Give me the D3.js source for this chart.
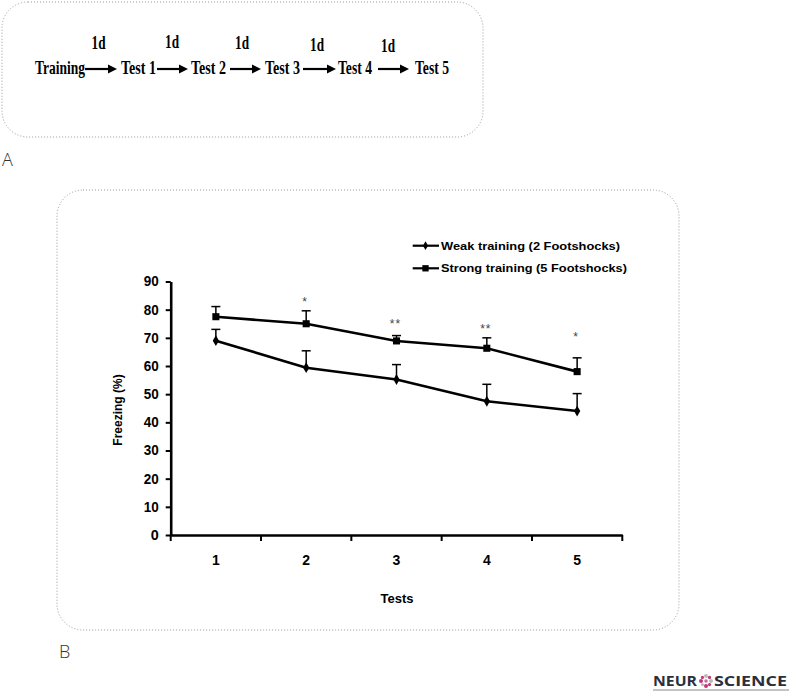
<!DOCTYPE html>
<html><head><meta charset="utf-8">
<script src="https://cdn.jsdelivr.net/npm/d3@7"></script>
<style>body{margin:0;background:#fff}svg{display:block}</style>
</head><body>
<script>
// ---- data ----
const stages = ["Training","Test 1","Test 2","Test 3","Test 4","Test 5"];
const intervalLabels = ["1d","1d","1d","1d","1d"];
const tests = ["1","2","3","4","5"];
const weakMean = [69.0, 59.4, 55.2, 47.5, 44.0];
const weakErr  = [4.0, 6.0, 5.3, 6.0, 6.2];
const strongMean = [77.5, 75.0, 68.9, 66.3, 58.0];
const strongErr  = [3.6, 4.6, 1.9, 3.7, 4.9];
const sigMarks = ["", "*", "**", "**", "*"];
const sigLevel = [null, 84, 76.5, 74.5, 71.6];
const yTicks = [0,10,20,30,40,50,60,70,80,90];
const seriesNames = ["Weak training (2 Footshocks)","Strong training (5 Footshocks)"];

const W=789,H=691;
const svg=d3.select("body").append("svg").attr("width",W).attr("height",H);

// ---- Panel A ----
svg.append("rect").attr("x",2).attr("y",2).attr("width",481).attr("height",135).attr("rx",26)
  .attr("fill","none").attr("stroke","#999").attr("stroke-width",1).attr("stroke-dasharray","1,2");
const stageX=[35,121,191,265,338,415];
const stageW=[50,35,35,35,34,34];
const serif="'Liberation Serif','Times New Roman',serif";
stages.forEach((s,i)=>{
  svg.append("text").attr("x",stageX[i]).attr("y",73.5).text(s)
    .attr("font-family",serif).attr("font-weight","bold").attr("font-size",18.5)
    .attr("textLength",stageW[i]).attr("lengthAdjust","spacingAndGlyphs");
});
const arrows=[[85,117],[157,188],[230,261],[303,336],[378,409]];
const dX=[98.5,172,242,317,388], dY=[49,48,49,50.5,51.5];
arrows.forEach((a,i)=>{
  svg.append("line").attr("x1",a[0]).attr("x2",a[1]-7).attr("y1",69).attr("y2",69)
    .attr("stroke","#000").attr("stroke-width",2.2);
  svg.append("path").attr("d",`M${a[1]},69 L${a[1]-9},64.5 L${a[1]-9},73.5 Z`).attr("fill","#000");
  svg.append("text").attr("x",dX[i]).attr("y",dY[i]).attr("text-anchor","middle").text(intervalLabels[i])
    .attr("font-family",serif).attr("font-weight","bold").attr("font-size",18)
    .attr("textLength",14).attr("lengthAdjust","spacingAndGlyphs");
});
svg.append("text").attr("x",2).attr("y",166).text("A").attr("font-family","'Open Sans',sans-serif")
  .attr("font-weight",300).attr("font-size",18).attr("fill","#333");

// ---- Panel B ----
svg.append("rect").attr("x",57).attr("y",190).attr("width",622).attr("height",440).attr("rx",26)
  .attr("fill","none").attr("stroke","#999").attr("stroke-width",1).attr("stroke-dasharray","1,2");
svg.append("text").attr("x",59).attr("y",658).text("B").attr("font-family","'Open Sans',sans-serif")
  .attr("font-weight",300).attr("font-size",18).attr("fill","#333");

const x=d3.scaleBand().domain(tests).range([170.7,622.3]);
const y=d3.scaleLinear().domain([0,90]).range([535,281.5]);
const sans="'Liberation Sans',Arial,sans-serif";

const gy=svg.append("g").attr("transform","translate(170.7,0)")
  .call(d3.axisLeft(y).tickValues(yTicks).tickSize(5).tickPadding(7).tickSizeOuter(0));
const gx=svg.append("g").attr("transform","translate(0,535)")
  .call(d3.axisBottom(x).tickSize(0).tickPadding(20));
// band boundary ticks
const bounds=x.domain().map(d=>x(d)).concat([x.range()[1]]);
gx.selectAll(".bt").data(bounds).enter().append("line").attr("class","bt")
  .attr("x1",d=>d).attr("x2",d=>d).attr("y1",0).attr("y2",6).attr("stroke","#000").attr("stroke-width",2);
[gx,gy].forEach(g=>{
  g.select(".domain").attr("stroke","#000").attr("stroke-width",2.6);
  g.selectAll(".tick line").attr("stroke","#000").attr("stroke-width",2);
  g.selectAll("text").attr("font-family",sans).attr("font-weight","bold").attr("font-size",14).attr("fill","#000");
});
gy.selectAll("text").attr("textLength",15).attr("lengthAdjust","spacingAndGlyphs");
gy.selectAll(".tick").filter(d=>d===0).select("text").attr("textLength",8);

svg.append("text").attr("transform","translate(122,410) rotate(-90)").attr("text-anchor","middle")
  .text("Freezing (%)").attr("font-family",sans).attr("font-weight","bold").attr("font-size",12);
svg.append("text").attr("x",397).attr("y",603).attr("text-anchor","middle")
  .text("Tests").attr("font-family",sans).attr("font-weight","bold").attr("font-size",13);

const cx=d=>x(d)+x.bandwidth()/2;
function drawSeries(mean,err,marker){
  const pts=tests.map((t,i)=>({t,m:mean[i],e:err[i]}));
  pts.forEach(p=>{
    svg.append("line").attr("x1",cx(p.t)).attr("x2",cx(p.t)).attr("y1",y(p.m)).attr("y2",y(p.m+p.e))
      .attr("stroke","#000").attr("stroke-width",1.5);
    svg.append("line").attr("x1",cx(p.t)-4.5).attr("x2",cx(p.t)+4.5).attr("y1",y(p.m+p.e)).attr("y2",y(p.m+p.e))
      .attr("stroke","#000").attr("stroke-width",1.5);
  });
  svg.append("path").datum(pts).attr("fill","none").attr("stroke","#000").attr("stroke-width",2.6)
    .attr("d",d3.line().x(p=>cx(p.t)).y(p=>y(p.m)));
  svg.selectAll(null).data(pts).enter().append("path")
    .attr("transform",p=>`translate(${cx(p.t)},${y(p.m)})`)
    .attr("d",d3.symbol().type(marker==="square"?d3.symbolSquare:d3.symbolDiamond).size(marker==="square"?50:34))
    .attr("fill","#000");
}
drawSeries(weakMean,weakErr,"diamond");
drawSeries(strongMean,strongErr,"square");

tests.forEach((t,i)=>{
  if(!sigMarks[i]) return;
  svg.append("text").attr("x",cx(t)-1).attr("y",y(sigLevel[i])+8).attr("text-anchor","middle")
    .text(sigMarks[i]).attr("font-family",sans).attr("font-size",12).attr("fill","#444")
    .attr("letter-spacing",1);
});

// legend
const legY=[245.7,268.3];
seriesNames.forEach((n,i)=>{
  svg.append("line").attr("x1",412.7).attr("x2",439).attr("y1",legY[i]).attr("y2",legY[i])
    .attr("stroke","#000").attr("stroke-width",2.2);
  svg.append("path").attr("transform",`translate(425.5,${legY[i]})`)
    .attr("d",d3.symbol().type(i===0?d3.symbolDiamond:d3.symbolSquare).size(i===0?22:40)).attr("fill","#000");
  svg.append("text").attr("x",441).attr("y",legY[i]+4).text(n)
    .attr("font-family",sans).attr("font-weight","bold").attr("font-size",11)
    .attr("textLength",i===0?179:186).attr("lengthAdjust","spacingAndGlyphs");
});

// logo
const lg=svg.append("g");
lg.append("text").attr("x",653).attr("y",686).text("NEUR").attr("font-family","'Open Sans',sans-serif")
  .attr("font-weight",700).attr("font-size",15).attr("fill","#2b2f3b").attr("textLength",44).attr("lengthAdjust","spacingAndGlyphs");
const ocx=706, ocy=681;
d3.range(8).forEach(k=>{
  const a=k*Math.PI/4;
  lg.append("circle").attr("cx",ocx+5*Math.cos(a)).attr("cy",ocy+5*Math.sin(a)).attr("r",k%2?1.6:2)
    .attr("fill",k%3===0?"#bbb":"#c2387a");
});
lg.append("circle").attr("cx",ocx).attr("cy",ocy).attr("r",1.8).attr("fill","#d06a9a");
lg.append("text").attr("x",714).attr("y",686).text("SCIENCE").attr("font-family","'Open Sans',sans-serif")
  .attr("font-weight",700).attr("font-size",15).attr("fill","#2b2f3b").attr("textLength",73).attr("lengthAdjust","spacingAndGlyphs");
lg.append("line").attr("x1",653).attr("x2",789).attr("y1",690).attr("y2",690).attr("stroke","#888").attr("stroke-width",1);
</script>
</body></html>
